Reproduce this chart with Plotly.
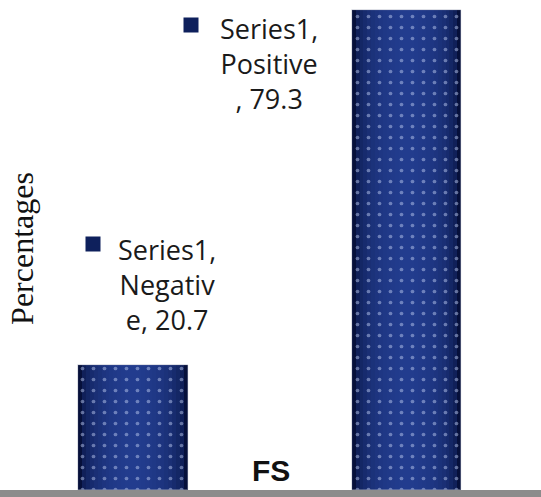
import plotly.graph_objects as go

# Chart data
categories = ["Negative", "Positive"]
values = [20.7, 79.3]
series_name = "Series1"
axis_title = "Percentages"
group_label = "FS"

NAVY_EDGE = (6, 16, 58)
NAVY_MID = (34, 60, 142)
BAR_WIDTH = 0.40
BANDS = 14


def mix(c1, c2, t):
    return "rgb(%d,%d,%d)" % tuple(round(a + (b - a) * t) for a, b in zip(c1, c2))


fig = go.Figure()

# Cylindrical shading: stacked bands of the same bars, narrowing toward the centre
for k in range(BANDS):
    frac = 1 - k / BANDS
    shade = (1 - frac * frac) ** 0.5
    fig.add_trace(go.Bar(
        x=categories, y=values, width=BAR_WIDTH * frac,
        marker=dict(color=mix(NAVY_EDGE, NAVY_MID, shade), line=dict(width=0)),
        hoverinfo="skip", showlegend=False,
    ))

# Dotted texture on top of the shaded bars
fig.add_trace(go.Bar(
    x=categories, y=values, width=BAR_WIDTH, name=series_name,
    marker=dict(
        color="rgba(0,0,0,0)",
        line=dict(width=0.6, color="rgba(170,175,190,0.8)"),
        pattern=dict(shape=".", fgcolor="#b9c8ee", bgcolor="rgba(0,0,0,0)",
                     size=11, solidity=0.09),
    ),
    showlegend=False,
))

# Data labels with legend keys
label_layout = {
    "Negative": dict(text_dx=34, text_dy=80, key_dx=-40, key_dy=121),
    "Positive": dict(text_dx=-137, text_dy=-53, key_dx=-215, key_dy=-15),
}
wrapped = {
    "Negative": "Series1,<br>Negativ<br>e, {v}",
    "Positive": "Series1,<br>Positive<br>, {v}",
}
annotations = []
for cat, v in zip(categories, values):
    lay = label_layout[cat]
    annotations.append(dict(
        x=cat, y=v, xref="x", yref="y", showarrow=False,
        text=wrapped[cat].format(v=v), align="center",
        xanchor="center", yanchor="middle",
        xshift=lay["text_dx"], yshift=lay["text_dy"],
        font=dict(family="Open Sans", size=27, color="#1a1a1a"),
    ))
    annotations.append(dict(
        x=cat, y=v, xref="x", yref="y", showarrow=False,
        text=" ", width=14, height=14, bgcolor="rgb(14,32,92)",
        xanchor="center", yanchor="middle", borderpad=0,
        xshift=lay["key_dx"], yshift=lay["key_dy"],
        font=dict(size=6),
    ))

annotations.append(dict(
    x=22 / 541, y=0.492, xref="paper", yref="paper", showarrow=False,
    text=axis_title, textangle=-90, xanchor="center", yanchor="middle",
    font=dict(family="Liberation Serif", size=32, color="#111111"),
))
annotations.append(dict(
    x=0.5, y=0.04, xref="paper", yref="paper", showarrow=False,
    text="<b>%s</b>" % group_label, xanchor="center", yanchor="middle",
    font=dict(family="Liberation Sans", size=30, color="#111111"),
))

fig.update_layout(
    width=541, height=497,
    margin=dict(l=0, r=0, t=0, b=7),
    barmode="overlay", bargap=0,
    paper_bgcolor="white", plot_bgcolor="white",
    showlegend=False,
    annotations=annotations,
    xaxis=dict(range=[-0.486, 1.492], showticklabels=False, ticks="",
               showgrid=False, zeroline=False,
               showline=True, linecolor="#8c8c8c", linewidth=7),
    yaxis=dict(range=[0, 81], visible=False, showgrid=False, zeroline=False),
)

fig.write_html("out.html")
